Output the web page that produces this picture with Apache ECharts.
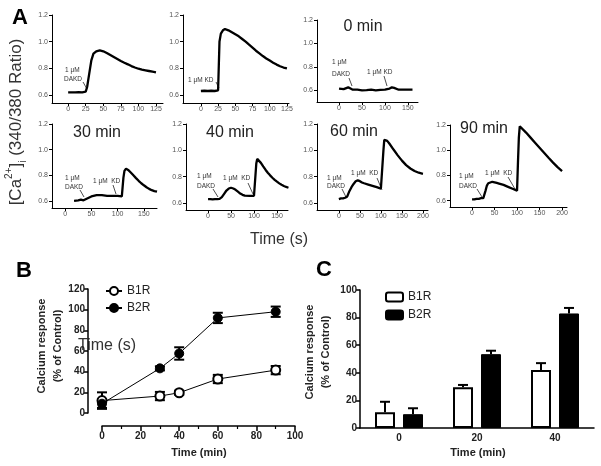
<!DOCTYPE html>
<html><head><meta charset="utf-8">
<script src="https://cdn.jsdelivr.net/npm/echarts@6.0.0/dist/echarts.min.js"></script>
<style>html,body{margin:0;padding:0;background:#fff}#c{width:601px;height:466px}</style>
</head><body><div id="c"></div>
<script>
const FF = '"Liberation Sans", Arial, sans-serif';

// ---------- Panel A: [Ca2+]i traces (time s, ratio) ----------
const traceKdDakd = [[0,0.62],[5,0.62],[10,0.62],[15,0.622],[20,0.62],[25,0.625],[27,0.66],[30,0.76],[33,0.86],[36,0.91],[40,0.928],[45,0.935],[50,0.928],[55,0.915],[60,0.9],[65,0.885],[70,0.87],[75,0.855],[80,0.842],[85,0.83],[90,0.817],[95,0.806],[100,0.797],[105,0.79],[110,0.785],[115,0.78],[120,0.775],[125,0.77]];
const traceKd = [[0,0.63],[5,0.632],[10,0.63],[15,0.632],[20,0.63],[25,0.635],[26,0.64],[27,1.0],[29,1.06],[32,1.085],[35,1.095],[40,1.085],[45,1.07],[50,1.055],[55,1.04],[60,1.02],[65,1.0],[70,0.977],[75,0.955],[80,0.932],[85,0.912],[90,0.892],[95,0.874],[100,0.858],[105,0.842],[110,0.828],[115,0.816],[120,0.806],[125,0.8]];
const trace0min = [[0,0.615],[10,0.61],[20,0.625],[25,0.615],[30,0.605],[40,0.605],[50,0.6],[60,0.602],[70,0.605],[80,0.6],[90,0.604],[100,0.605],[110,0.615],[115,0.625],[120,0.62],[130,0.605],[140,0.605],[150,0.605],[160,0.605]];
const trace30min = [[17,0.6],[25,0.605],[30,0.61],[35,0.605],[40,0.615],[45,0.625],[50,0.635],[60,0.645],[70,0.645],[80,0.64],[90,0.64],[100,0.64],[108,0.635],[110,0.645],[111,0.78],[113,0.835],[116,0.852],[120,0.842],[125,0.822],[130,0.8],[135,0.778],[140,0.757],[145,0.738],[150,0.722],[155,0.707],[160,0.694],[165,0.684],[170,0.677],[175,0.672]];
const trace40min = [[0,0.63],[5,0.63],[10,0.628],[15,0.63],[20,0.63],[25,0.632],[30,0.645],[35,0.67],[40,0.695],[45,0.71],[50,0.716],[55,0.71],[60,0.7],[65,0.686],[70,0.672],[75,0.662],[80,0.656],[90,0.655],[100,0.655],[104,0.66],[105,0.9],[107,0.935],[110,0.93],[115,0.905],[120,0.878],[125,0.853],[130,0.83],[135,0.81],[140,0.792],[145,0.776],[150,0.762],[155,0.749],[160,0.738],[165,0.729],[170,0.722],[175,0.716]];
const trace60min = [[0,0.63],[5,0.635],[10,0.635],[15,0.64],[20,0.65],[25,0.69],[30,0.72],[35,0.745],[40,0.765],[45,0.772],[50,0.766],[55,0.756],[60,0.75],[70,0.74],[80,0.73],[90,0.72],[100,0.71],[104,0.72],[106,1.0],[108,1.08],[110,1.09],[115,1.072],[120,1.052],[130,1.006],[140,0.962],[150,0.922],[160,0.888],[170,0.862],[180,0.843],[190,0.83],[200,0.822]];
const trace90min = [[0,0.61],[5,0.61],[10,0.615],[15,0.615],[20,0.62],[25,0.62],[28,0.625],[30,0.68],[33,0.72],[36,0.738],[40,0.746],[45,0.75],[50,0.746],[55,0.741],[60,0.736],[70,0.725],[80,0.71],[90,0.695],[100,0.68],[102,0.9],[104,1.1],[106,1.19],[110,1.18],[120,1.14],[130,1.1],[140,1.06],[150,1.02],[160,0.98],[170,0.94],[180,0.902],[190,0.866],[200,0.835]];

const tracesA = [traceKdDakd, traceKd, trace0min, trace30min, trace40min, trace60min, trace90min];
const titlesA = ['', '', '0 min', '30 min', '40 min', '60 min', '90 min'];

// tick labels
const yTicksA = [0.6, 0.8, 1.0, 1.2];
const xTicks125 = [0, 25, 50, 75, 100, 125];
const xTicks150 = [0, 50, 100, 150];
const xTicks200 = [0, 50, 100, 150, 200];

// ---------- Panel B ----------
const timesB = [0, 30, 40, 60, 90];
const b1rMean = [12, 16.4, 19.6, 32.9, 41.5];
const b1rErr  = [8, 4, 2, 4, 4];
const b2rMean = [9, 43.2, 57.6, 92, 98];
const b2rErr  = [4, 2, 6, 5, 5];

// ---------- Panel C ----------
const catsC = ['0', '20', '40'];
const c1Mean = [11.5, 29.5, 42];
const c1Err  = [7.5, 1.7, 5];
const c2Mean = [10, 53.5, 83];
const c2Err  = [4.3, 2.5, 4];

// ---------- layout ----------
const smallLayout = [
  {left:52,  top:15,  width:111, height:88, xmin:-23, xmax:135, ymin:0.54, xt:xTicks125},
  {left:183, top:15,  width:106, height:88, xmin:-26, xmax:128, ymin:0.54, xt:xTicks125},
  {left:317, top:20,  width:101, height:82, xmin:-48, xmax:172, ymin:0.5,  xt:xTicks150},
  {left:52,  top:124, width:105, height:84, xmin:-25, xmax:175, ymin:0.545,xt:xTicks150},
  {left:186, top:124, width:102, height:86, xmin:-48, xmax:174, ymin:0.547,xt:xTicks150},
  {left:317, top:124, width:111, height:86, xmin:-52, xmax:212, ymin:0.547,xt:xTicks200},
  {left:450, top:125, width:117, height:82, xmin:-49, xmax:211, ymin:0.55, xt:xTicks200}
];
const titlePos = [null, null, [363,27], [97,133], [230,133], [354,132], [484,129]];

const grids = [], xAxes = [], yAxes = [], series = [];
smallLayout.forEach((L, i) => {
  grids.push({left:L.left, top:L.top, width:L.width, height:L.height, outerBoundsMode:'none', containLabel:false});
  xAxes.push({gridIndex:i, type:'value', min:L.xmin, max:L.xmax,
    axisLine:{onZero:false, lineStyle:{color:'#000', width:1}},
    axisTick:{customValues:L.xt, length:3, lineStyle:{color:'#000'}},
    axisLabel:{customValues:L.xt, fontSize:7, color:'#555', margin:3, fontFamily:FF},
    splitLine:{show:false}});
  yAxes.push({gridIndex:i, type:'value', min:L.ymin, max:1.2,
    axisLine:{show:true, onZero:false, lineStyle:{color:'#000', width:1}},
    axisTick:{show:true, customValues:yTicksA, length:3, lineStyle:{color:'#000'}},
    axisLabel:{customValues:yTicksA, fontSize:7, color:'#555', margin:4, fontFamily:FF,
      formatter: v => Number(v).toFixed(1)},
    splitLine:{show:false}});
  series.push({type:'line', xAxisIndex:i, yAxisIndex:i, data:tracesA[i], showSymbol:false,
    symbol:'none', lineStyle:{color:'#000', width:2.3}, z:2});
});

// Panel B grid (index 7)
grids.push({left:102, top:289, width:193, height:124, outerBoundsMode:'none', containLabel:false});
xAxes.push({gridIndex:7, type:'value', min:0, max:100, interval:20, offset:13,
  axisLine:{onZero:false, lineStyle:{color:'#000', width:1.5}},
  axisTick:{length:5, lineStyle:{color:'#000', width:1.5}},
  minorTick:{show:true, splitNumber:2, length:3, lineStyle:{color:'#000', width:1.2}},
  axisLabel:{fontSize:10, fontWeight:'bold', color:'#222', margin:5, fontFamily:FF},
  splitLine:{show:false}});
yAxes.push({gridIndex:7, type:'value', min:0, max:120, interval:20, offset:14,
  axisLine:{show:true, onZero:false, lineStyle:{color:'#000', width:1.5}},
  axisTick:{show:true, length:4, lineStyle:{color:'#000', width:1.5}},
  axisLabel:{fontSize:10, fontWeight:'bold', color:'#222', margin:3, fontFamily:FF},
  splitLine:{show:false}});

// Panel C grid (index 8)
grids.push({left:360, top:290, width:234, height:138, outerBoundsMode:'none', containLabel:false});
xAxes.push({gridIndex:8, type:'category', data:catsC,
  axisLine:{onZero:false, lineStyle:{color:'#000', width:1.5}},
  axisTick:{show:false},
  axisLabel:{fontSize:10, fontWeight:'bold', color:'#222', margin:5, fontFamily:FF}});
yAxes.push({gridIndex:8, type:'value', min:0, max:100, interval:20,
  axisLine:{show:true, onZero:false, lineStyle:{color:'#000', width:1.5}},
  axisTick:{show:true, length:4, lineStyle:{color:'#000', width:1.5}},
  axisLabel:{fontSize:10, fontWeight:'bold', color:'#222', margin:3, fontFamily:FF},
  splitLine:{show:false}});

function errBRender(params, api) {
  const x = api.value(0), v = api.value(1), e = api.value(2);
  const lo = api.coord([x, v - e]), hi = api.coord([x, v + e]);
  const px = lo[0];
  const st = {stroke:'#000', lineWidth:2};
  return {type:'group', children:[
    {type:'line', shape:{x1:px, y1:lo[1], x2:px, y2:hi[1]}, style:st},
    {type:'line', shape:{x1:px-5, y1:lo[1], x2:px+5, y2:lo[1]}, style:st},
    {type:'line', shape:{x1:px-5, y1:hi[1], x2:px+5, y2:hi[1]}, style:st}
  ]};
}
series.push({type:'custom', name:'errB1', xAxisIndex:7, yAxisIndex:7, renderItem:errBRender,
  data: timesB.map((t,i)=>[t, b1rMean[i], b1rErr[i]]), encode:{x:0, y:1}, z:1, clip:false});
series.push({type:'custom', name:'errB2', xAxisIndex:7, yAxisIndex:7, renderItem:errBRender,
  data: timesB.map((t,i)=>[t, b2rMean[i], b2rErr[i]]), encode:{x:0, y:1}, z:1, clip:false});
series.push({type:'line', name:'B1R', xAxisIndex:7, yAxisIndex:7, clip:false,
  data: timesB.map((t,i)=>[t, b1rMean[i]]), symbol:'circle', symbolSize:9,
  itemStyle:{color:'#fff', borderColor:'#000', borderWidth:2},
  lineStyle:{color:'#000', width:1}, z:3});
series.push({type:'line', name:'B2R', xAxisIndex:7, yAxisIndex:7, clip:false,
  data: timesB.map((t,i)=>[t, b2rMean[i]]), symbol:'circle', symbolSize:9,
  itemStyle:{color:'#000', borderColor:'#000', borderWidth:1},
  lineStyle:{color:'#000', width:1}, z:4});

// Panel C series
series.push({type:'bar', name:'B1R ', xAxisIndex:8, yAxisIndex:8, data:c1Mean, barWidth:20, barGap:'40%',
  itemStyle:{color:'#fff', borderColor:'#000', borderWidth:2}});
series.push({type:'bar', name:'B2R ', xAxisIndex:8, yAxisIndex:8, data:c2Mean, barWidth:20, barGap:'40%',
  itemStyle:{color:'#000', borderColor:'#000', borderWidth:1}});
function errC(offset) {
  return function (params, api) {
    const i = api.value(0), v = api.value(1), e = api.value(2);
    const p0 = api.coord([i, v]), p1 = api.coord([i, v + e]);
    const x = p0[0] + offset;
    const st = {stroke:'#000', lineWidth:2};
    return {type:'group', children:[
      {type:'line', shape:{x1:x, y1:p0[1], x2:x, y2:p1[1]}, style:st},
      {type:'line', shape:{x1:x-5, y1:p1[1], x2:x+5, y2:p1[1]}, style:st}
    ]};
  };
}
series.push({type:'custom', name:'errC1', xAxisIndex:8, yAxisIndex:8, renderItem:errC(-14),
  data: c1Mean.map((v,i)=>[i, v, c1Err[i]]), encode:{x:0, y:1}, z:3, clip:false});
series.push({type:'custom', name:'errC2', xAxisIndex:8, yAxisIndex:8, renderItem:errC(14),
  data: c2Mean.map((v,i)=>[i, v, c2Err[i]]), encode:{x:0, y:1}, z:3, clip:false});

// ---------- graphic texts ----------
const graphics = [];
function txt(x, y, text, size, opts) {
  graphics.push(Object.assign({type:'text', x:x, y:y, style:Object.assign({text:text, fontSize:size,
    fontFamily:FF, fill:'#333', textAlign:'left', textVerticalAlign:'middle'}, opts && opts.style || {})},
    opts && opts.el || {}));
}
function seg(x1, y1, x2, y2) {
  graphics.push({type:'line', shape:{x1, y1, x2, y2}, style:{stroke:'#222', lineWidth:0.8}});
}
// panel letters
txt(12, 18, 'A', 22, {style:{fontWeight:'bold', fill:'#000'}});
txt(16, 271, 'B', 22, {style:{fontWeight:'bold', fill:'#000'}});
txt(316, 270, 'C', 22, {style:{fontWeight:'bold', fill:'#000'}});
// small chart titles
titlePos.forEach((p, i) => { if (p) txt(p[0], p[1], titlesA[i], 16, {style:{textAlign:'center', fill:'#222'}}); });
// annotations (label text)
const ann = 6.5;
txt(65, 70, '1 μM', ann); txt(64, 79, 'DAKD', ann); seg(83, 82, 87, 89);
txt(188, 80, '1 μM KD', ann); seg(216, 82, 219, 88);
txt(332, 62, '1 μM', ann); txt(332, 74, 'DAKD', ann); seg(349, 78, 352, 86);
txt(367, 72, '1 μM KD', ann); seg(384, 76, 387, 86);
txt(65, 178, '1 μM', ann); txt(65, 187, 'DAKD', ann); seg(80, 190, 84, 197);
txt(93, 181, '1 μM  KD', ann); seg(113, 185, 116, 194);
txt(197, 176, '1 μM', ann); txt(197, 186, 'DAKD', ann); seg(213, 189, 218, 197);
txt(223, 178, '1 μM  KD', ann); seg(248, 183, 253, 194);
txt(327, 178, '1 μM', ann); txt(327, 186, 'DAKD', ann); seg(342, 189, 346, 197);
txt(351, 173, '1 μM  KD', ann); seg(377, 178, 382, 190);
txt(459, 176, '1 μM', ann); txt(459, 186, 'DAKD', ann); seg(477, 189, 482, 197);
txt(485, 173, '1 μM  KD', ann); seg(508, 177, 515, 189);
// Time (s)
txt(279, 240, 'Time (s)', 16, {style:{textAlign:'center'}});
txt(78, 346, 'Time (s)', 16, {style:{textAlign:'left'}});
// A y label
graphics.push({type:'text', x:16, y:122, rotation:Math.PI/2, style:{
  text:'{a|[Ca}{s|2+}{a|]}{b|i}{a| (340/380 Ratio)}',
  rich:{a:{fontSize:17, fontFamily:FF, fill:'#333', lineHeight:24, verticalAlign:'middle'},
        s:{fontSize:10, fontFamily:FF, fill:'#333', lineHeight:24, verticalAlign:'top'},
        b:{fontSize:10, fontFamily:FF, fill:'#333', lineHeight:24, verticalAlign:'bottom'}},
  textAlign:'center', textVerticalAlign:'middle'}});
// B, C axis titles
txt(199, 453, 'Time (min)', 11, {style:{textAlign:'center', fontWeight:'bold', fill:'#222'}});
txt(478, 453, 'Time (min)', 11, {style:{textAlign:'center', fontWeight:'bold', fill:'#222'}});
graphics.push({type:'text', x:50, y:346, rotation:Math.PI/2, style:{text:'Calcium response\n(% of Control)',
  fontSize:11, fontWeight:'bold', fontFamily:FF, fill:'#222', lineHeight:16, textAlign:'center', textVerticalAlign:'middle'}});
graphics.push({type:'text', x:318, y:352, rotation:Math.PI/2, style:{text:'Calcium response\n(% of Control)',
  fontSize:11, fontWeight:'bold', fontFamily:FF, fill:'#222', lineHeight:16, textAlign:'center', textVerticalAlign:'middle'}});

const chart = echarts.init(document.getElementById('c'), null, {renderer:'canvas'});
chart.setOption({
  animation:false,
  backgroundColor:'#fff',
  grid:grids, xAxis:xAxes, yAxis:yAxes, series:series,
  legend:[
    {data:['B1R','B2R'], orient:'vertical', left:100, top:280, itemWidth:16, itemHeight:10, itemGap:5,
      textStyle:{fontSize:12, color:'#222', fontFamily:FF}, selectedMode:false},
    {data:['B1R ','B2R '], orient:'vertical', left:380, top:286, itemWidth:17, itemHeight:9, itemGap:6,
      textStyle:{fontSize:12, color:'#222', fontFamily:FF}, selectedMode:false}
  ],
  graphic:graphics
});
</script></body></html>
